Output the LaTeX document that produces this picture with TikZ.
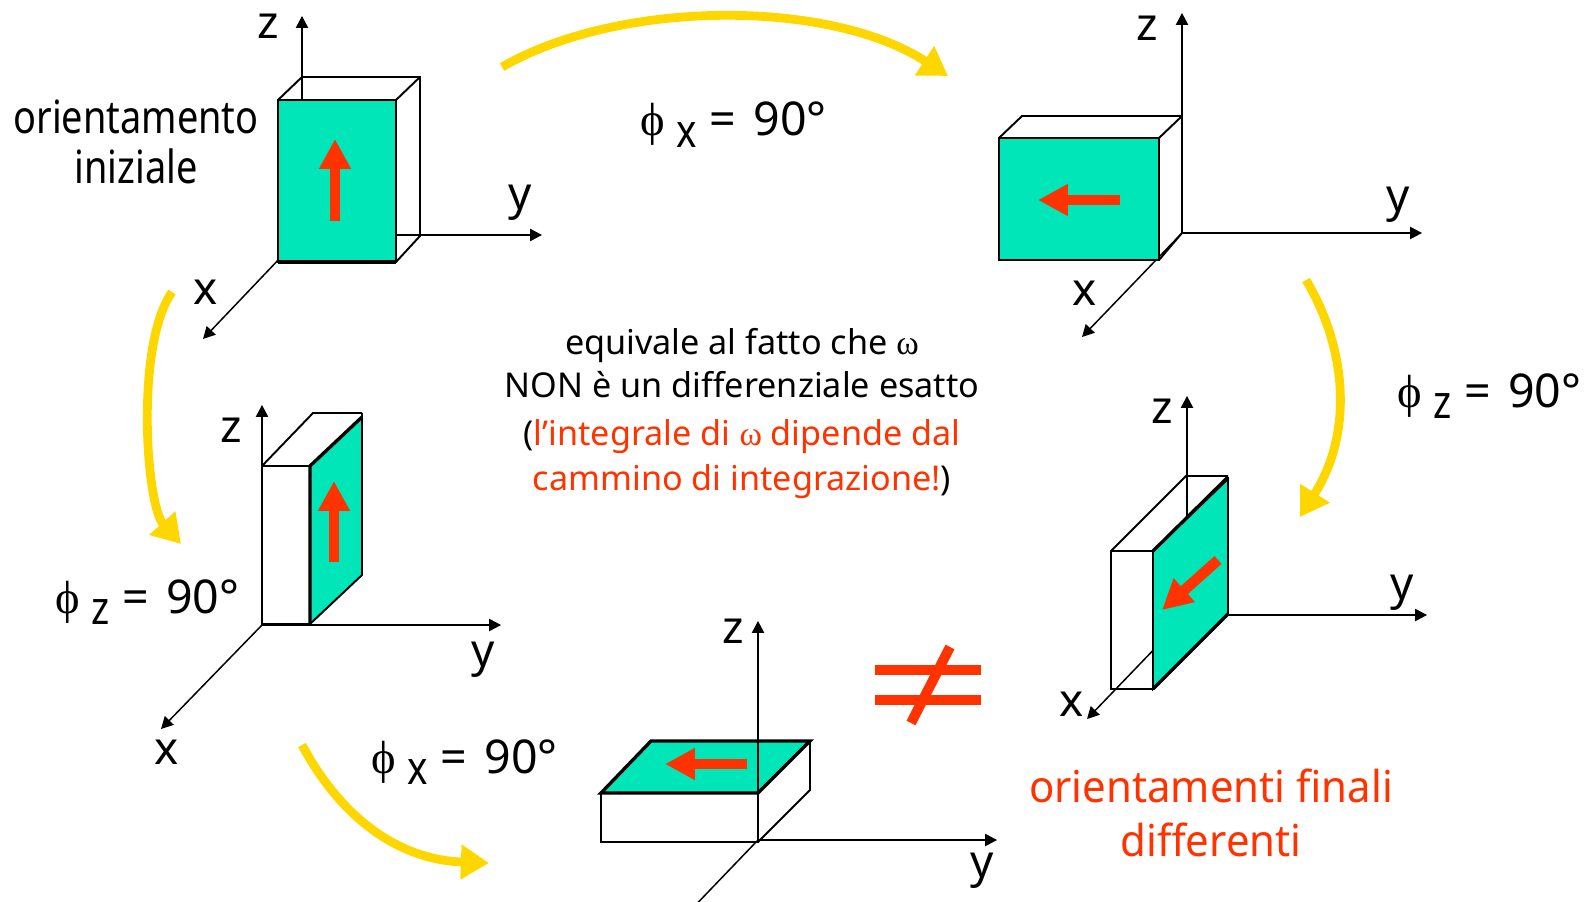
\documentclass[tikz,border=0pt]{standalone}
\usepackage{fontspec}
\setmainfont{Noto Sans}
\newfontfamily\symfont{Liberation Serif}
\newfontfamily\narrowfont[FakeStretch=0.83]{Noto Sans}
\newfontfamily\slimfont[FakeStretch=0.955]{Noto Sans}
\usepackage{xcolor}
\usetikzlibrary{arrows.meta}
\definecolor{facegreen}{HTML}{00E6B8}
\definecolor{redmark}{HTML}{FF3300}
\definecolor{turnyellow}{HTML}{FFD700}
\tikzset{
  axisline/.style={
    -{Triangle[length=6.8pt, width=7pt]}, line width=0.85pt, color=black
  },
  boxedge/.style={draw=black, line width=1.1pt, line join=miter},
  thickedge/.style={draw=black, line width=1.9pt},
  faceteal/.style={fill=facegreen, draw=black, line width=1.1pt},
  redarrow/.style={
    -{Triangle[length=17pt, width=17pt]}, line width=6pt, color=redmark
  },
  turnarrow/.style={
    -{Triangle[length=16pt, width=19pt]}, line width=5pt, color=turnyellow
  },
  neqbar/.style={line width=5.7pt, color=redmark},
  axislabel/.style={
    inner sep=0pt, font=\fontsize{26}{26}\selectfont
  },
  turnlabel/.style={
    inner sep=0pt, anchor=base west, font=\fontsize{26.5}{26.5}\selectfont
  },
  textblock/.style={
    inner sep=0pt, align=center, anchor=center
  },
}
\newcommand{\rotlabel}[1]{{\symfont ϕ} \raisebox{-6.8pt}{\narrowfont #1} = \hspace{3pt}90°}

\begin{document}
\begin{tikzpicture}[x=0.02cm, y=-0.02cm]
  \useasboundingbox (0,0) rectangle (1585,902);
  % Initial box
  \coordinate (oa) at (302,235);
  \coordinate (za) at (302,16);
  \coordinate (ya) at (542,235);
  \coordinate (xa) at (203,339);
  \draw[boxedge] (278,100) -- (302,77) -- (420,77) -- (420,236) -- (396,262);
  \draw[boxedge] (396,100) -- (420,77);
  \draw[axisline] (oa) -- (za);
  \draw[axisline] (oa) -- (ya);
  \draw[axisline] (oa) -- (xa);
  \filldraw[faceteal] (278,100) rectangle (396,262);
  \draw[thickedge] (278,262) -- (396,262);
  \coordinate (ra) at (335,221);
  \coordinate (rb) at (335,139);
  \draw[redarrow] (ra) -- (rb);
  \node[axislabel] (lza) at (268,26) {z};
  \node[axislabel] (lya) at (520,203) {y};
  \node[axislabel] (lxa) at (206,292) {x};
  \node[textblock, font=\narrowfont\fontsize{26}{28.4}\selectfont] (init) at (136,142)
    {orientamento\\iniziale};
  % Box after first turn
  \coordinate (ob) at (1182,233);
  \coordinate (zb) at (1182,13);
  \coordinate (yb) at (1422,233);
  \coordinate (xb) at (1082,337);
  \draw[axisline] (ob) -- (zb);
  \draw[axisline] (ob) -- (yb);
  \draw[axisline] (ob) -- (xb);
  \draw[boxedge] (999,138) -- (1022,116) -- (1182,116) -- (1182,233) -- (1159,260);
  \draw[boxedge] (1159,138) -- (1182,116);
  \filldraw[faceteal] (999,138) rectangle (1159,260);
  \coordinate (rc) at (1120,200);
  \coordinate (rd) at (1038,200);
  \draw[redarrow] (rc) -- (rd);
  \node[axislabel] (lzb) at (1147,28) {z};
  \node[axislabel] (lyb) at (1398,205) {y};
  \node[axislabel] (lxb) at (1085,293) {x};
  % Box turned about z, left
  \coordinate (oc) at (262,625);
  \coordinate (zc) at (262,405);
  \coordinate (yc) at (501,625);
  \coordinate (xc) at (161,729);
  \draw[axisline] (oc) -- (zc);
  \draw[axisline] (oc) -- (yc);
  \draw[axisline] (oc) -- (xc);
  \draw[boxedge] (262,466) -- (313,413) -- (362,413);
  \draw[boxedge] (262,466) rectangle (310,624);
  \filldraw[faceteal] (310,466) -- (362,417) -- (362,575) -- (310,624) -- cycle;
  \draw[boxedge] (362,413) -- (362,417);
  \draw[thickedge] (310,624) -- (310,466) -- (362,417);
  \coordinate (re) at (334,562);
  \coordinate (rf) at (334,481);
  \draw[redarrow] (re) -- (rf);
  \node[axislabel] (lzc) at (231,430) {z};
  \node[axislabel] (lyc) at (483,660) {y};
  \node[axislabel] (lxc) at (167,752) {x};
  % Flat box, bottom
  \coordinate (od) at (758,840);
  \coordinate (zd) at (758,621);
  \coordinate (yd) at (997,840);
  \coordinate (xd) at (686,915);
  \filldraw[faceteal] (601,793) -- (651,741) -- (810,741) -- (758,793) -- cycle;
  \draw[axisline] (od) -- (zd);
  \draw[axisline] (od) -- (yd);
  \draw[axisline] (od) -- (xd);
  \draw[boxedge] (601,793) rectangle (758,842);
  \draw[boxedge] (810,741) -- (810,790) -- (758,842);
  \draw[thickedge] (601,793) -- (651,741) -- (810,741) -- (758,793) -- cycle;
  \coordinate (rg) at (747,764);
  \coordinate (rh) at (665,764);
  \draw[redarrow] (rg) -- (rh);
  \node[axislabel] (lzd) at (733,631) {z};
  \node[axislabel] (lyd) at (982,871) {y};
  % Thin box, right
  \coordinate (oe) at (1187,615);
  \coordinate (ze) at (1187,396);
  \coordinate (ye) at (1427,615);
  \coordinate (xe) at (1087,719);
  \draw[axisline] (oe) -- (ze);
  \draw[axisline] (oe) -- (ye);
  \draw[axisline] (oe) -- (xe);
  \draw[boxedge] (1111,551) -- (1186,476) -- (1228,476);
  \draw[boxedge] (1111,551) rectangle (1153,689);
  \filldraw[faceteal] (1153,551) -- (1228,479) -- (1228,614) -- (1153,689) -- cycle;
  \draw[thickedge] (1153,551) -- (1228,477);
  \draw[thickedge] (1153,689) -- (1228,614);
  \coordinate (ri) at (1218,560);
  \coordinate (rj) at (1162,610);
  \draw[redarrow] (ri) -- (rj);
  \node[axislabel] (lze) at (1162,411) {z};
  \node[axislabel] (lye) at (1402,593) {y};
  \node[axislabel] (lxe) at (1072,704) {x};
  % Yellow turns
  \coordinate (ta) at (502,67);
  \coordinate (tb) at (948,76);
  \coordinate (tc) at (172,292);
  \coordinate (td) at (181,544);
  \coordinate (te) at (1306,280);
  \coordinate (tf) at (1300,517);
  \coordinate (tg) at (302,745);
  \coordinate (th) at (489,863);
  \draw[turnarrow] (ta) .. controls (620,-1) and (830,-1) .. (tb);
  \draw[turnarrow] (tc) .. controls (135,345) and (146,505) .. (td);
  \draw[turnarrow] (te) .. controls (1345,345) and (1355,430) .. (tf);
  \draw[turnarrow] (tg) .. controls (345,825) and (405,860) .. (th);
  % Turn labels
  \node[turnlabel] (phia) at (640,136) {\rotlabel{x}};
  \node[turnlabel] (phib) at (55,613) {\rotlabel{z}};
  \node[turnlabel] (phic) at (1397,407) {\rotlabel{z}};
  \node[turnlabel] (phid) at (371,773) {\rotlabel{x}};
  % Centre text
  \node[textblock, font=\fontsize{19.45}{25.9}\selectfont] (note) at (742,413.5)
    {equivale al fatto che {\symfont ω}\\[-1.3pt]
     NON è un differenziale esatto\\[1.6pt]
     (\textcolor{redmark}{l’integrale di {\symfont ω} dipende dal}\\[-0.4pt]
     \textcolor{redmark}{cammino di integrazione!})};
  % Not equal
  \draw[neqbar] (875,670) -- (981,670);
  \draw[neqbar] (875,700) -- (981,700);
  \draw[neqbar] (950,647) -- (911,723);
  \node[textblock, text=redmark, font=\slimfont\fontsize{25}{30.6}\selectfont] (final) at (1211,813)
    {orientamenti finali\\differenti};
\end{tikzpicture}
\end{document}
